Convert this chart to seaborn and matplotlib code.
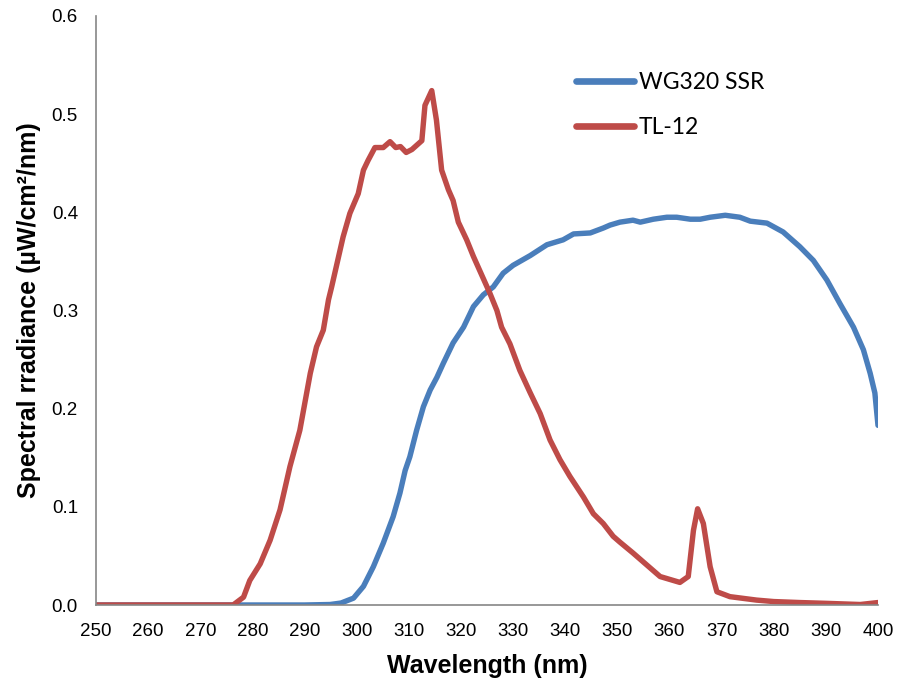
import numpy as np
import pandas as pd
import seaborn as sns
import matplotlib
matplotlib.use("Agg")
import matplotlib.pyplot as plt

# Spectral irradiance of the WG320-filtered solar simulator
wg320_wavelength = [250, 260, 270, 280, 290, 294.9, 297.0, 299.4, 301.3, 303.2, 305.1,
                    307.0, 308.3, 309.3, 310.2, 311.5, 312.8, 314.1, 315.4, 316.6, 318.5,
                    320.5, 322.4, 324.3, 326.2, 328.1, 330.0, 333.3, 336.5, 339.6, 341.6,
                    344.8, 347.3, 348.6, 350.5, 353.0, 354.4, 356.9, 359.5, 361.4, 364.0,
                    365.9, 367.8, 370.7, 373.5, 375.5, 378.7, 381.8, 385.0, 387.6, 390.2,
                    392.7, 395.3, 397.2, 398.5, 399.4, 400.0]
wg320_irradiance = [0, 0, 0, 0, 0, 0.0005, 0.002, 0.007, 0.019, 0.039, 0.063,
                    0.090, 0.114, 0.137, 0.151, 0.178, 0.202, 0.219, 0.232, 0.246, 0.267,
                    0.283, 0.304, 0.316, 0.324, 0.338, 0.346, 0.356, 0.367, 0.372, 0.378,
                    0.379, 0.384, 0.387, 0.390, 0.392, 0.390, 0.393, 0.395, 0.395, 0.393,
                    0.393, 0.395, 0.397, 0.395, 0.391, 0.389, 0.380, 0.365, 0.351, 0.331,
                    0.307, 0.283, 0.260, 0.236, 0.216, 0.183]

# Spectral irradiance of the TL-12 lamp
tl12_wavelength = [250, 260, 270, 276.3, 278.3, 279.5, 281.5, 283.4, 285.3, 287.2, 289.1,
                   291.1, 292.3, 293.6, 294.6, 295.2, 297.4, 298.7, 300.3, 301.3, 302.2,
                   303.5, 305.1, 306.4, 307.5, 308.4, 309.5, 310.6, 312.5, 313.1, 314.4,
                   315.3, 316.3, 317.6, 318.5, 319.5, 321.1, 322.4, 324.0, 325.6, 326.9,
                   327.8, 329.4, 331.3, 333.3, 335.2, 337.1, 339.0, 340.9, 343.5, 345.4,
                   347.3, 349.2, 350.5, 353.0, 355.6, 358.2, 362.0, 363.6, 364.6, 365.4,
                   366.5, 367.8, 369.1, 371.6, 376.7, 380.0, 385.0, 390.0, 396.6, 400.0]
tl12_irradiance = [0, 0, 0, 0, 0.008, 0.025, 0.042, 0.066, 0.097, 0.141, 0.178,
                   0.236, 0.263, 0.280, 0.311, 0.324, 0.375, 0.399, 0.419, 0.443, 0.453,
                   0.466, 0.466, 0.472, 0.466, 0.467, 0.461, 0.464, 0.473, 0.509, 0.524,
                   0.494, 0.443, 0.423, 0.412, 0.390, 0.372, 0.355, 0.336, 0.317, 0.300,
                   0.283, 0.266, 0.239, 0.216, 0.195, 0.168, 0.148, 0.131, 0.110, 0.093,
                   0.083, 0.070, 0.064, 0.053, 0.041, 0.029, 0.023, 0.029, 0.076, 0.098,
                   0.083, 0.039, 0.0135, 0.0085, 0.005, 0.0035, 0.0025, 0.0017, 0.0005, 0.0025]

series_names = ["WG320 SSR", "TL-12"]
series_colors = ["#4A7EBB", "#BE4B48"]
x_ticks = list(range(250, 401, 10))
y_ticks = [0.0, 0.1, 0.2, 0.3, 0.4, 0.5, 0.6]

df = pd.concat([
    pd.DataFrame({"Wavelength": wg320_wavelength, "Irradiance": wg320_irradiance,
                  "Source": series_names[0]}),
    pd.DataFrame({"Wavelength": tl12_wavelength, "Irradiance": tl12_irradiance,
                  "Source": series_names[1]}),
], ignore_index=True)

sns.set_style("white")
plt.rcParams["font.family"] = ["Liberation Sans", "DejaVu Sans"]
plt.rcParams["text.color"] = "black"
plt.rcParams["axes.labelcolor"] = "black"

fig = plt.figure(figsize=(9.03, 6.84), dpi=100)
ax = fig.add_axes([96 / 903, 1 - 605 / 684, 782 / 903, 589 / 684])

sns.lineplot(data=df, x="Wavelength", y="Irradiance", hue="Source",
             hue_order=series_names, palette=series_colors, linewidth=3.9,
             errorbar=None, ax=ax, solid_capstyle="round", solid_joinstyle="round")

ax.set_xlim(250, 400)
ax.set_ylim(0, 0.6)
ax.set_xticks(x_ticks)
ax.set_yticks(y_ticks)
ax.set_yticklabels([f"{v:.1f}" for v in y_ticks])

for side in ("top", "right"):
    ax.spines[side].set_visible(False)
for side in ("left", "bottom"):
    ax.spines[side].set_color("#868686")
    ax.spines[side].set_linewidth(1.2)
ax.tick_params(axis="both", direction="out", length=5, width=1.2, color="#868686",
               labelsize=13.5, labelcolor="black")
ax.tick_params(axis="x", pad=8)
ax.tick_params(axis="y", pad=8)

ax.set_xlabel("Wavelength (nm)", fontsize=18, fontweight="bold", labelpad=10)
ax.set_ylabel("Spectral rradiance (µW/cm²/nm)", fontsize=18, fontweight="bold", labelpad=8)

leg = ax.legend(loc="upper left", bbox_to_anchor=(0.587, 0.94), frameon=False,
                handlelength=2.55, handletextpad=0.2, labelspacing=1.05,
                prop={"family": "Lato", "size": 16.5})
for line in leg.get_lines():
    line.set_linewidth(4.8)
    line.set_solid_capstyle("round")

fig.savefig("out.png", dpi=100, facecolor="white")
